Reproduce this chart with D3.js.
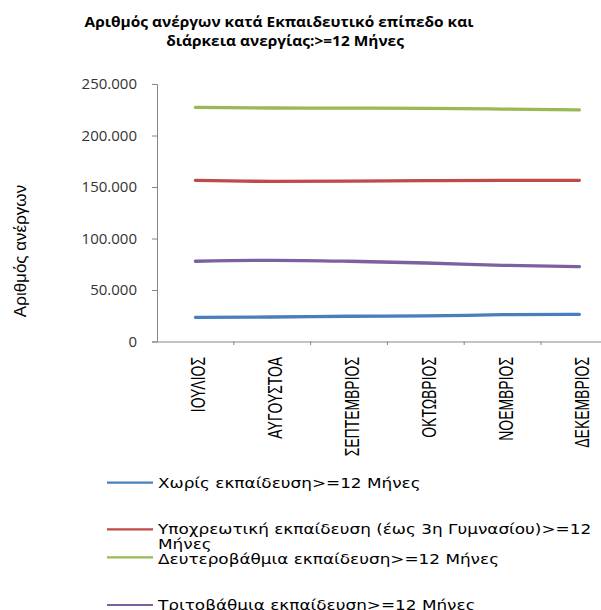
<!DOCTYPE html>
<html><head><meta charset="utf-8">
<script src="https://cdn.jsdelivr.net/npm/d3@7"></script>
<style>html,body{margin:0;padding:0;background:#fff;overflow:hidden}</style>
</head><body>
<svg id="c" width="601" height="610"></svg>
<script>
const months = ["ΙΟΥΛΙΟΣ","ΑΥΓΟΥΣΤΟΑ","ΣΕΠΤΕΜΒΡΙΟΣ","ΟΚΤΩΒΡΙΟΣ","ΝΟΕΜΒΡΙΟΣ","ΔΕΚΕΜΒΡΙΟΣ"];
const seriesNames = [
  "Χωρίς εκπαίδευση>=12 Μήνες",
  "Υποχρεωτική εκπαίδευση (έως 3η Γυμνασίου)>=12 Μήνες",
  "Δευτεροβάθμια εκπαίδευση>=12 Μήνες",
  "Τριτοβάθμια εκπαίδευση>=12 Μήνες"
];
const noEducation = [23500, 23800, 24500, 24800, 26000, 26400];
const compulsory  = [156500, 155500, 155700, 156200, 156500, 156500];
const secondary   = [227400, 226700, 226600, 226400, 225700, 224800];
const tertiary    = [77900, 78800, 77900, 76200, 74000, 72600];
const yTicks = [0, 50000, 100000, 150000, 200000, 250000];
const titleLines = ["Αριθμός ανέργων κατά  Εκπαιδευτικό επίπεδο και", "διάρκεια ανεργίας:>=12 Μήνες"];
const yTitle = "Αριθμός ανέργων";
const colors = ["#4A7EBB", "#BE4B48", "#98B954", "#7D60A0"];

const allSeries = [noEducation, compulsory, secondary, tertiary];
const svg = d3.select("#c");

const x = d3.scaleBand().domain(months).range([157, 157 + 6 * 76.8]);
const y = d3.scaleLinear().domain([0, 250000]).range([341.5, 84]);
const fmt = v => v === 0 ? "0" : d3.format(",")(v).replace(/,/g, ".");

// title
svg.selectAll("text.title").data(titleLines).join("text")
  .attr("class", "title")
  .attr("x", 0).attr("y", 0)
  .attr("transform", (d, i) => `translate(${[279, 285][i]},${[27, 46][i]}) scale(1.03,1)`)
  .attr("text-anchor", "middle")
  .attr("font-family", "Open Sans, sans-serif").attr("font-weight", "bold")
  .attr("font-size", 15).attr("fill", "#000")
  .text(d => d);

// y axis
const gy = svg.append("g").attr("transform", "translate(157,0)")
  .call(d3.axisLeft(y).tickValues(yTicks).tickSize(5).tickPadding(0).tickFormat(() => ""));
gy.select(".domain").attr("stroke", "#868686");
gy.selectAll(".tick line").attr("stroke", "#868686");
svg.append("g").selectAll("text").data(yTicks).join("text")
  .attr("transform", d => `translate(137,${y(d) + 5.3})`)
  .attr("text-anchor", "end")
  .attr("font-family", "Open Sans, sans-serif").attr("font-size", 15)
  .attr("fill", "#333")
  .text(fmt);

// x axis
const gx = svg.append("g").attr("transform", "translate(0,341.5)")
  .call(d3.axisBottom(x).tickSize(0).tickFormat(() => ""));
gx.select(".domain").attr("stroke", "#868686");
const bounds = months.map(m => x(m));
svg.append("g").selectAll("line").data(bounds.slice(1)).join("line")
  .attr("x1", d => d).attr("x2", d => d).attr("y1", 341.5).attr("y2", 345)
  .attr("stroke", "#868686");
svg.append("g").selectAll("text").data(months).join("text")
  .attr("transform", d => `translate(${x(d) + x.bandwidth() / 2 + 10},357) rotate(-90) scale(0.9,1.3)`)
  .attr("text-anchor", "end")
  .attr("font-family", "Liberation Sans, sans-serif").attr("font-size", 15.5)
  .attr("fill", "#000")
  .text(d => d);

// y title
svg.append("text")
  .attr("transform", "translate(26,251) rotate(-90)")
  .attr("text-anchor", "middle")
  .attr("font-family", "Liberation Sans, sans-serif").attr("font-size", 17)
  .attr("fill", "#000")
  .text(yTitle);

// lines
const line = d3.line()
  .x((d, i) => x(months[i]) + x.bandwidth() / 2)
  .y(d => y(d))
  .curve(d3.curveMonotoneX);
svg.append("g").selectAll("path").data(allSeries).join("path")
  .attr("d", d => line(d))
  .attr("fill", "none")
  .attr("stroke", (d, i) => colors[i])
  .attr("stroke-width", 3.3)
  .attr("stroke-linecap", "round");

// legend
const legRows = [
  {ly: 482.7, lines: [seriesNames[0]], base: [488]},
  {ly: 529.3, lines: ["Υποχρεωτική εκπαίδευση (έως 3η Γυμνασίου)>=12", "Μήνες"], base: [534, 548.5]},
  {ly: 557.3, lines: [seriesNames[2]], base: [563.5]},
  {ly: 605, lines: [seriesNames[3]], base: [609.5]}
];
const lg = svg.append("g");
legRows.forEach((r, i) => {
  lg.append("line").attr("x1", 107).attr("x2", 153).attr("y1", r.ly).attr("y2", r.ly)
    .attr("stroke", colors[i]).attr("stroke-width", 2.2);
  r.lines.forEach((t, j) => {
    lg.append("text")
      .attr("transform", `translate(158,${r.base[j]}) scale(1.25,1)`)
      .attr("font-family", "DejaVu Sans, sans-serif").attr("font-size", 13.5)
      .attr("fill", "#000")
      .text(t);
  });
});
</script>
</body></html>
